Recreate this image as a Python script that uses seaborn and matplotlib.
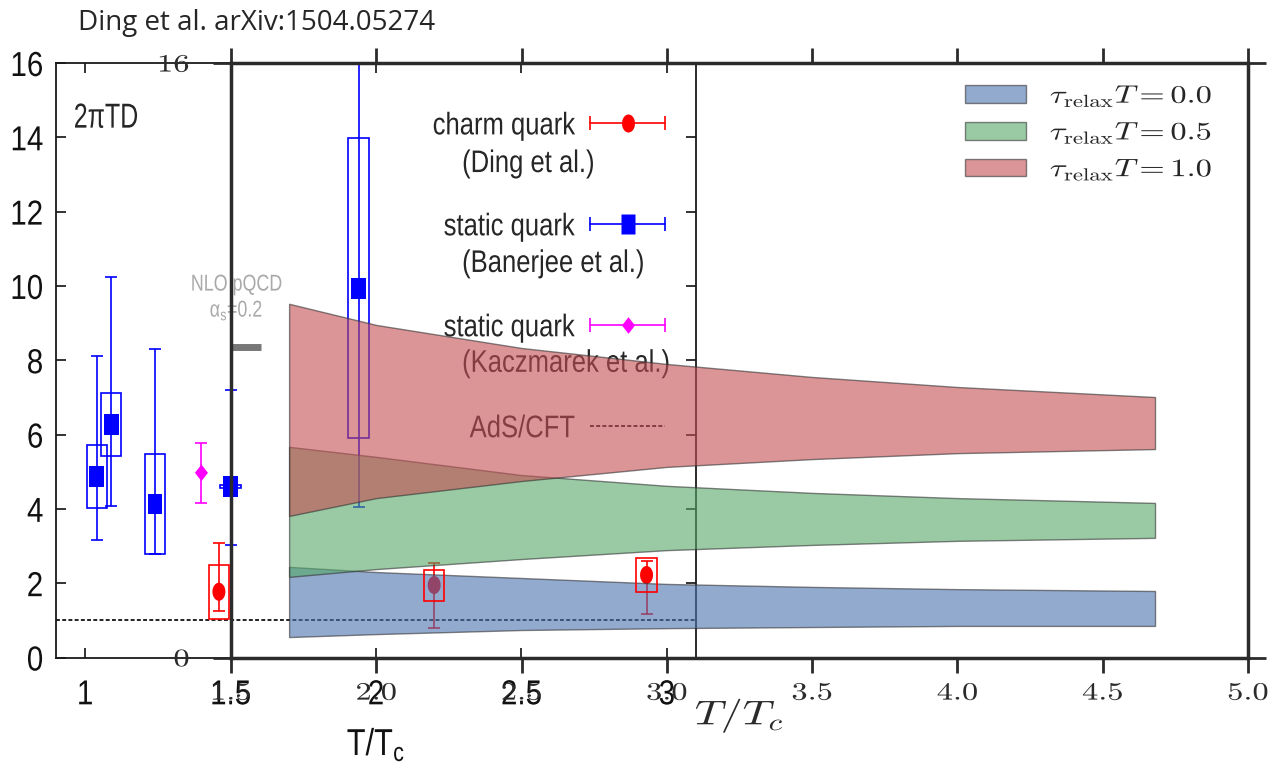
import numpy as np
import matplotlib
matplotlib.use("Agg")
import matplotlib.pyplot as plt
import seaborn as sns
from matplotlib.lines import Line2D
from matplotlib.markers import MarkerStyle
from matplotlib.legend_handler import HandlerBase
from matplotlib.font_manager import FontProperties
from matplotlib.patheffects import AbstractPathEffect
from matplotlib.transforms import Affine2D

# ---------------- data ----------------
# static quark, Banerjee et al. (T/Tc, 2piTD, systematic box, statistical error)
ban_T = [1.04, 1.09, 1.24, 1.50, 1.94]
ban_D = [4.87, 6.27, 4.13, 4.60, 9.92]
ban_box_lo = [4.03, 5.41, 2.79, 4.55, 5.91]
ban_box_hi = [5.73, 7.13, 5.48, 4.65, 13.98]
ban_err_lo = [3.17, 4.09, 2.79, 3.03, 4.05]
ban_err_hi = [8.12, 10.24, 8.30, 7.20, 16.0]

# static quark, Kaczmarek et al.
kac_T = [1.40]
kac_D = [4.97]
kac_err_lo = [4.16]
kac_err_hi = [5.77]

# charm quark, Ding et al.
ding_T = [1.46, 2.20, 2.93]
ding_D = [1.77, 1.95, 2.22]
ding_box_lo = [1.04, 1.52, 1.76]
ding_box_hi = [2.49, 2.36, 2.68]
ding_err_lo = [1.25, 0.79, 1.17]
ding_err_hi = [3.08, 2.54, 2.60]

# NLO pQCD (alpha_s = 0.2) and AdS/CFT
nlo_T = [1.50, 1.605]
nlo_D = 8.37
ads_D = 1.0

# model bands for three relaxation times
band_T = [1.7, 2.0, 2.5, 3.0, 3.5, 4.0, 4.68]
tau00_lo = [0.55, 0.63, 0.74, 0.79, 0.82, 0.85, 0.85]
tau00_hi = [2.44, 2.30, 2.14, 1.98, 1.90, 1.84, 1.79]
tau05_lo = [2.17, 2.38, 2.65, 2.89, 3.03, 3.14, 3.22]
tau05_hi = [5.67, 5.40, 4.91, 4.62, 4.43, 4.29, 4.16]
tau10_lo = [3.81, 4.29, 4.75, 5.13, 5.34, 5.50, 5.61]
tau10_hi = [9.52, 8.95, 8.33, 7.90, 7.55, 7.28, 7.01]
tau_labels = [r"$\tau_{\mathrm{relax}}T = 0.0$",
              r"$\tau_{\mathrm{relax}}T = 0.5$",
              r"$\tau_{\mathrm{relax}}T = 1.0$"]

lattice_xticks = [1, 1.5, 2, 2.5, 3]
lattice_xticklabels = ["1", "1.5", "2", "2.5", "3"]
model_xticks = [1.5, 2.0, 2.5, 3.0, 3.5, 4.0, 4.5, 5.0]

# ---------------- style ----------------
sns.set_theme(style="ticks")
SANS = ["Liberation Sans", "DejaVu Sans"]
plt.rcParams["font.family"] = SANS
plt.rcParams["mathtext.fontset"] = "custom"
plt.rcParams["mathtext.rm"] = "Liberation Sans"
plt.rcParams["mathtext.it"] = "Liberation Sans:italic"
plt.rcParams["mathtext.bf"] = "Liberation Sans:bold"
plt.rcParams["mathtext.sf"] = "Liberation Sans"

BLUE, RED, MAG = "#0000ff", "#ff0000", "#ff00ff"
deep = sns.color_palette("deep")
band_colors = [deep[0], deep[2], deep[3]]


class HScale(AbstractPathEffect):
    """Draw text glyphs squeezed/stretched horizontally about a pivot."""

    def __init__(self, sx, pivot="center"):
        super().__init__()
        self.sx = sx
        self.pivot = pivot

    def draw_path(self, renderer, gc, tpath, affine, rgbFace=None):
        if len(tpath.vertices) == 0:
            renderer.draw_path(gc, tpath, affine, rgbFace)
            return
        ext = tpath.get_extents()
        px = {"left": ext.x0, "center": 0.5 * (ext.x0 + ext.x1), "right": ext.x1}[self.pivot]
        squeeze = Affine2D().translate(-px, 0).scale(self.sx, 1).translate(px, 0)
        renderer.draw_path(gc, tpath, squeeze + affine, rgbFace)


def narrow(artists, sx=0.82, pivot="center"):
    for a in artists:
        a.set_path_effects([HScale(sx, pivot)])


# gnuplot-like stretched markers
t = np.linspace(0, 2 * np.pi, 41)
m_ellipse = MarkerStyle(np.column_stack([0.72 * np.cos(t), np.sin(t)]))
m_square = MarkerStyle(np.array([(-0.7, -1), (0.7, -1), (0.7, 1), (-0.7, 1), (-0.7, -1)]))
m_diamond = MarkerStyle(np.array([(0, 1), (0.78, 0), (0, -1), (-0.78, 0), (0, 1)]))

W, H = 1269, 775
fig = plt.figure(figsize=(W / 100, H / 100), dpi=100)
fig.patch.set_facecolor("white")

axA = fig.add_axes([56 / W, (H - 657.5) / H, 640 / W, 594.5 / H])
axB = fig.add_axes([231 / W, (H - 657.5) / H, 1017 / W, 594.5 / H])
axB.set_facecolor("none")

# ---------------- lattice panel ----------------
axA.set_facecolor("white")
axA.set_xlim(0.9, 3.1)
axA.set_ylim(0, 16)
for sp in axA.spines.values():
    sp.set_linewidth(1.3)
    sp.set_color("#1a1a1a")
axA.set_xticks(lattice_xticks)
axA.set_xticklabels(lattice_xticklabels)
axA.set_yticks(np.arange(0, 17, 2))
axA.tick_params(direction="in", length=7, width=1.2, top=True, right=True,
                labelsize=25, colors="#111111")
axA.tick_params(axis="x", pad=15)
axA.tick_params(axis="y", pad=9)

axA.axhline(ads_D, color="#222222", ls=(0, (2, 1.2)), lw=1.4, zorder=1)

# Banerjee
axA.bar(ban_T, np.subtract(ban_box_hi, ban_box_lo), bottom=ban_box_lo, width=0.07,
        fill=False, edgecolor=BLUE, linewidth=1.2, zorder=2)
axA.errorbar(ban_T, ban_D,
             yerr=[np.subtract(ban_D, ban_err_lo), np.subtract(ban_err_hi, ban_D)],
             fmt="none", ecolor=BLUE, elinewidth=1.2, capsize=4.5, capthick=1.2, zorder=3)
sns.scatterplot(x=ban_T, y=ban_D, marker=m_square, s=15 ** 2, color=BLUE,
                edgecolor="none", ax=axA, zorder=4, legend=False)

# Kaczmarek
axA.errorbar(kac_T, kac_D,
             yerr=[np.subtract(kac_D, kac_err_lo), np.subtract(kac_err_hi, kac_D)],
             fmt="none", ecolor=MAG, elinewidth=1.2, capsize=4.5, capthick=1.2, zorder=3)
sns.scatterplot(x=kac_T, y=kac_D, marker=m_diamond, s=12 ** 2, color=MAG,
                edgecolor="none", ax=axA, zorder=4, legend=False)

# Ding (charm)
axA.errorbar(ding_T, ding_D,
             yerr=[np.subtract(ding_D, ding_err_lo), np.subtract(ding_err_hi, ding_D)],
             fmt="none", ecolor=RED, elinewidth=1.2, capsize=4.5, capthick=1.2, zorder=3)
sns.scatterplot(x=ding_T, y=ding_D, marker=m_ellipse, s=13 ** 2, color=RED,
                edgecolor="none", ax=axA, zorder=4, legend=False)

# NLO pQCD
axA.plot(nlo_T, [nlo_D, nlo_D], color="#777777", lw=5, solid_capstyle="butt", zorder=3)
t_nlo1 = axA.text(1.52, 10.05, "NLO pQCD", color="#a9a9a9", ha="center", va="center",
                  fontsize=16.5)
t_nlo2 = axA.text(1.52, 9.35, r"α$_{\mathrm{s}}$=0.2", color="#a9a9a9", ha="center",
                  va="center", fontsize=16.5)
narrow([t_nlo1, t_nlo2], 0.78, "center")

t_lab = axA.text(0.027, 0.935, "2πTD", transform=axA.transAxes, ha="left", va="top",
                 fontsize=25)
narrow([t_lab], 0.72, "left")
axA.set_xlabel(r"T/T$_{\mathrm{c}}$", fontsize=27, labelpad=10, color="#111111")
narrow([axA.xaxis.label], 0.82, "center")


class HandlerXErr(HandlerBase):
    """Horizontal error-bar sample with end caps and a centred marker."""

    def create_artists(self, legend, orig_handle, xdescent, ydescent, width, height,
                       fontsize, trans):
        x0, x1 = -xdescent, -xdescent + width
        y = (height - ydescent) / 2
        c = orig_handle.get_color()
        lw = orig_handle.get_linewidth()
        bar = Line2D([x0, x1], [y, y], color=c, lw=lw)
        caps = Line2D([x0, x1], [y, y], ls="none", marker="|", ms=10, mew=lw, color=c)
        dot = Line2D([(x0 + x1) / 2], [y], ls="none", marker=orig_handle.get_marker(),
                     ms=orig_handle.get_markersize(), color=c, mec="none")
        for a in (bar, caps, dot):
            a.set_transform(trans)
        return [bar, caps, dot]


h_charm = Line2D([], [], color=RED, marker=m_ellipse, ms=13, lw=1.2)
h_ban = Line2D([], [], color=BLUE, marker=m_square, ms=15, lw=1.2)
h_kac = Line2D([], [], color=MAG, marker=m_diamond, ms=12, lw=1.2)
h_ads = Line2D([], [], color="#222222", ls=(0, (2, 1.2)), lw=1.4)
hx = HandlerXErr()
legA = axA.legend([h_charm, h_ban, h_kac, h_ads],
                  ["charm quark", "static quark", "static quark", "AdS/CFT"],
                  loc="upper right", bbox_to_anchor=(0.9516, 0.9186), frameon=False,
                  markerfirst=False, fontsize=22.5, handlelength=2.4, handletextpad=0.48,
                  labelspacing=2.27, borderpad=0, borderaxespad=0,
                  handler_map={h_charm: hx, h_ban: hx, h_kac: hx})
narrow(legA.get_texts(), 0.82, "right")
second = []
for txt, ypos in zip(["(Ding et al.)", "(Banerjee et al.)", "(Kaczmarek et al.)"],
                     [0.830, 0.662, 0.494]):
    second.append(axA.text(0.634, ypos, txt, transform=axA.transAxes, ha="left",
                           va="center", fontsize=22.5))
narrow(second, 0.82, "left")

# ---------------- model panel ----------------
bands = [(tau00_lo, tau00_hi), (tau05_lo, tau05_hi), (tau10_lo, tau10_hi)]
for (lo, hi), col, lab in zip(bands, band_colors, tau_labels):
    axB.fill_between(band_T, lo, hi, facecolor=col, edgecolor="#333333", alpha=0.6,
                     lw=1.0, label=lab, zorder=2)

# charm systematic boxes sit above the bands
axB.bar(ding_T, np.subtract(ding_box_hi, ding_box_lo), bottom=ding_box_lo, width=0.07,
        fill=False, edgecolor=RED, linewidth=1.2, zorder=5, transform=axA.transData,
        clip_on=False)

axB.set_xlim(1.5, 5.0)
axB.set_ylim(0, 16)
for sp in axB.spines.values():
    sp.set_linewidth(2.5)
    sp.set_color("#2b2b2b")
axB.set_xticks(model_xticks)
axB.set_xticklabels([f"{v:.1f}" for v in model_xticks])
axB.set_yticks([0, 16])
axB.set_yticklabels(["0", "16"])
axB.tick_params(axis="x", direction="out", length=11, width=2, top=True, bottom=True,
                labeltop=False, labelsize=18, pad=7, colors="#2b2b2b",
                labelfontfamily="cmr10")
axB.tick_params(axis="y", direction="out", length=13, width=2, left=True, right=True,
                labelright=False, labelsize=18, pad=17, colors="#2b2b2b",
                labelfontfamily="cmr10")
axB.set_xlabel(r"$T/T_c$", fontsize=24.5, labelpad=-6, math_fontfamily="cm",
               color="#2b2b2b")

legB = axB.legend(loc="upper left", bbox_to_anchor=(0.7217, 0.965), frameon=False,
                  prop=FontProperties(size=18, math_fontfamily="cm"), handlelength=2.44,
                  handleheight=0.72, handletextpad=0.96, labelspacing=0.46, borderpad=0,
                  borderaxespad=0)

fig.text(78 / W, 1 - 30 / H, "Ding et al. arXiv:1504.05274",
         family=["Open Sans", "DejaVu Sans"], fontsize=20, ha="left", va="baseline")

# tick-label glyph widths for each panel
narrow(axA.get_xticklabels(), 0.85, "center")
narrow(axA.get_yticklabels(), 0.85, "right")
narrow(axB.get_xticklabels(), 1.3, "center")
narrow(axB.get_yticklabels(), 1.3, "right")
narrow([axB.xaxis.label], 1.3, "center")
narrow(legB.get_texts(), 1.3, "left")

fig.savefig("out.png", dpi=100, facecolor="white")
